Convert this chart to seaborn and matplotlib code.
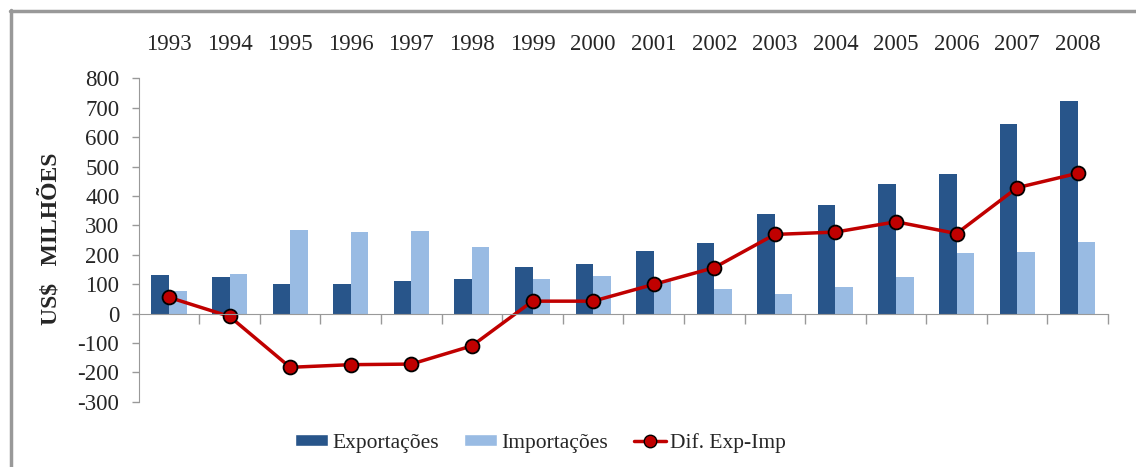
import numpy as np
import pandas as pd
import matplotlib
matplotlib.use('Agg')
import matplotlib.pyplot as plt
from matplotlib.lines import Line2D
from matplotlib.patches import Patch
import seaborn as sns

anos = ['1993', '1994', '1995', '1996', '1997', '1998', '1999', '2000',
        '2001', '2002', '2003', '2004', '2005', '2006', '2007', '2008']
exportacoes = [132, 125, 102, 102, 109, 118, 159, 169, 214, 239, 337, 369, 440, 474, 643, 723]
importacoes = [75, 135, 283, 277, 280, 226, 118, 127, 112, 84, 68, 90, 125, 205, 210, 242]
diferenca = [55, -10, -183, -174, -172, -110, 42, 42, 99, 156, 269, 277, 312, 272, 428, 477]

cor_exp = '#28558A'
cor_imp = '#99BBE3'
cor_dif = '#C00000'

sns.set_style('white')
plt.rcParams['font.family'] = ['Liberation Serif', 'DejaVu Serif']
plt.rcParams['axes.unicode_minus'] = False

df = pd.DataFrame({'Ano': anos * 2,
                   'Valor': exportacoes + importacoes,
                   'Serie': ['Exportações'] * 16 + ['Importações'] * 16})

fig = plt.figure(figsize=(11.36, 4.67), dpi=100)
ax = fig.add_axes([0.1221, 0.1398, 0.8533, 0.6925])

sns.barplot(data=df, x='Ano', y='Valor', hue='Serie', order=anos,
            palette=[cor_exp, cor_imp], width=0.58, gap=0, saturation=1,
            edgecolor='none', legend=False, ax=ax)
sns.lineplot(x=np.arange(16), y=diferenca, color=cor_dif, lw=2.5,
             marker='o', markersize=10, markerfacecolor=cor_dif,
             markeredgecolor='black', markeredgewidth=1.3, ax=ax)

ax.set_xlim(-0.5, 15.5)
ax.set_ylim(-300, 800)
ax.set_yticks(range(-300, 801, 100))
ax.tick_params(axis='y', labelsize=16.5, length=5, width=1, color='#999999',
               pad=9, left=True)

# rotulos dos anos no topo, marcas entre categorias no eixo zero
ax.set_xticks(np.arange(16))
ax.set_xticklabels(anos)
ax.tick_params(axis='x', which='major', length=0, labelsize=16.5,
               labeltop=True, labelbottom=False, pad=17)
ax.set_xticks(np.arange(0.5, 16, 1), minor=True)
ax.tick_params(axis='x', which='minor', length=7, width=1, color='#999999',
               bottom=True, direction='out')

for s in ['top', 'right']:
    ax.spines[s].set_visible(False)
ax.spines['bottom'].set_position(('data', 0))
ax.spines['bottom'].set_color('#999999')
ax.spines['left'].set_color('#999999')
ax.set_xlabel('')
ax.set_ylabel('US$   MILHÕES', fontsize=17, fontweight='bold')
ax.yaxis.set_label_coords(-0.080, 0.505)

handles = [Patch(facecolor=cor_exp, label='Exportações'),
           Patch(facecolor=cor_imp, label='Importações'),
           Line2D([0], [0], color=cor_dif, lw=2.5, marker='o', markersize=9,
                  markerfacecolor=cor_dif, markeredgecolor='black',
                  label='Dif. Exp-Imp')]
fig.legend(handles=handles, loc='center', bbox_to_anchor=(0.476, 0.052),
           ncol=3, frameon=False, fontsize=15.5, handlelength=1.5,
           handleheight=0.5, handletextpad=0.2, columnspacing=1.2)

# moldura
fig.add_artist(Line2D([10 / 1136, 1.0], [1 - 10.5 / 467, 1 - 10.5 / 467],
                      color='#999999', lw=2.5, transform=fig.transFigure))
fig.add_artist(Line2D([10.5 / 1136, 10.5 / 1136], [0, 1 - 10 / 467],
                      color='#999999', lw=2.5, transform=fig.transFigure))

fig.savefig('out.png', dpi=100)
